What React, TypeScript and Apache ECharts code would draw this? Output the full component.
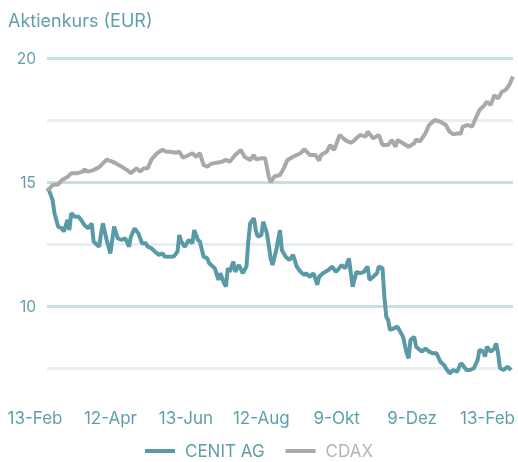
import React, { useEffect, useRef } from "react";
import * as echarts from "echarts";

// x = trading day since start (0..250)
const cdax: [number, number][] = [
  [0, 14.72], [1, 14.7], [3, 14.88], [6, 14.9], [8, 15.08], [11, 15.2], [13, 15.35], [16, 15.35], [19, 15.42],
  [20, 15.5], [22, 15.42], [25, 15.48], [28, 15.6], [30, 15.75], [32, 15.9], [35, 15.82], [37, 15.75],
  [40, 15.62], [43, 15.48], [45, 15.35], [48, 15.55], [50, 15.42], [52, 15.55], [54, 15.55], [56, 15.9],
  [59, 16.16], [62, 16.3], [64, 16.22], [66, 16.22], [69, 16.18], [71, 16.22], [73, 15.98], [76, 16.09],
  [78, 16.16], [80, 16.02], [82, 16.16], [84, 15.69], [86, 15.62], [88, 15.73], [91, 15.78], [94, 15.82],
  [96, 15.89], [98, 15.82], [101, 16.09], [104, 16.29], [106, 16.02], [109, 15.89], [111, 16.09], [112, 15.92],
  [115, 15.96], [117, 15.96], [119, 15.22], [120, 15.0], [122, 15.22], [125, 15.28], [127, 15.55], [129, 15.89],
  [132, 16.02], [136, 16.16], [138, 16.32], [141, 16.09], [144, 16.09], [146, 15.86], [147, 16.09], [150, 16.22],
  [152, 16.49], [154, 16.29], [155, 16.49], [157, 16.9], [160, 16.69], [163, 16.58], [165, 16.69], [168, 16.9],
  [171, 16.83], [172, 17.03], [175, 16.76], [178, 16.9], [180, 16.49], [183, 16.49], [185, 16.69], [187, 16.42],
  [188, 16.69], [191, 16.56], [194, 16.42], [197, 16.56], [198, 16.72], [200, 16.63], [203, 16.96], [205, 17.3],
  [208, 17.5], [211, 17.43], [214, 17.3], [216, 17.03], [218, 16.92], [220, 16.96], [222, 16.96], [223, 17.23],
  [226, 17.3], [228, 17.23], [230, 17.57], [232, 17.9], [234, 18.04], [236, 18.24], [238, 18.1], [240, 18.5],
  [242, 18.37], [244, 18.64], [246, 18.71], [248, 18.91], [250, 19.25],
];

const cenit: [number, number][] = [
  [0, 14.75], [1, 14.68], [3, 14.27], [4, 13.74], [6, 13.2], [8, 13.13], [9, 13.0], [11, 13.47], [12, 13.06],
  [13, 13.74], [15, 13.6], [17, 13.6], [19, 13.4], [20, 13.27], [22, 13.13], [24, 13.33], [25, 12.6], [28, 12.39],
  [29, 12.93], [30, 13.33], [32, 12.66], [34, 12.12], [35, 12.66], [36, 13.2], [38, 12.73], [40, 12.66],
  [42, 12.73], [44, 12.39], [45, 12.8], [47, 13.13], [49, 12.93], [51, 12.53], [53, 12.53], [54, 12.39],
  [56, 12.33], [58, 12.19], [60, 12.06], [62, 12.12], [63, 12.0], [65, 11.99], [68, 12.0], [70, 12.19],
  [71, 12.86], [72, 12.6], [74, 12.39], [76, 12.66], [78, 12.53], [79, 13.06], [81, 12.66], [82, 12.6],
  [84, 11.99], [86, 11.92], [87, 11.72], [90, 11.52], [92, 11.05], [93, 11.32], [95, 10.92], [96, 10.78],
  [97, 11.52], [98, 11.38], [100, 11.79], [101, 11.38], [103, 11.65], [105, 11.32], [107, 11.59], [108, 12.6],
  [109, 13.33], [111, 13.54], [112, 13.06], [113, 12.8], [115, 12.86], [116, 13.4], [118, 12.93], [120, 11.92],
  [121, 11.65], [123, 12.26], [125, 13.06], [126, 12.26], [128, 11.99], [130, 11.85], [132, 12.06], [134, 11.59],
  [136, 11.38], [138, 11.25], [139, 11.32], [141, 11.18], [143, 11.32], [145, 10.85], [146, 11.18], [148, 11.32],
  [151, 11.45], [153, 11.59], [155, 11.38], [156, 11.45], [158, 11.65], [160, 11.52], [162, 11.92], [163, 11.32],
  [164, 10.78], [166, 11.38], [168, 11.32], [170, 11.38], [172, 11.59], [173, 11.05], [175, 11.18], [177, 11.32],
  [178, 11.59], [180, 11.52], [181, 10.38], [182, 9.57], [183, 9.44], [184, 9.03], [186, 9.1], [188, 9.17],
  [189, 9.03], [191, 8.76], [193, 8.09], [194, 7.89], [195, 8.63], [197, 8.76], [198, 8.36], [200, 8.23],
  [201, 8.16], [203, 8.29], [205, 8.16], [207, 8.09], [209, 8.09], [211, 7.75], [213, 7.62], [214, 7.49],
  [216, 7.28], [218, 7.42], [220, 7.35], [222, 7.69], [223, 7.62], [225, 7.42], [227, 7.42], [229, 7.49],
  [231, 7.82], [232, 8.23], [234, 8.16], [235, 7.96], [236, 8.36], [238, 8.16], [240, 8.29], [241, 8.49],
  [242, 8.09], [243, 7.49], [245, 7.42], [247, 7.55], [249, 7.42],
];

const dateLabels = ["13-Feb", "12-Apr", "13-Jun", "12-Aug", "9-Okt", "9-Dez", "13-Feb"];
const yTickLabels = [10, 15, 20];

const TEAL = "#5a9aa6";
const TEXT = "#5f9fab";
const GREY = "#a9a9a9";
const FONT = "Inter, 'Open Sans', sans-serif";

export default function App() {
  const ref = useRef<HTMLDivElement>(null);
  useEffect(() => {
    if (!ref.current) return;
    const chart = echarts.init(ref.current, undefined, { renderer: "svg" });
    chart.setOption({
      animation: false,
      title: {
        text: "Aktienkurs (EUR)",
        left: 3,
        top: 6,
        textStyle: { color: TEXT, fontSize: 18, fontWeight: "normal", fontFamily: FONT },
      },
      legend: {
        top: 441,
        left: "center",
        padding: 0,
        itemWidth: 30,
        itemHeight: 4,
        itemGap: 21,
        icon: "rect",
        textStyle: { fontSize: 17, fontFamily: FONT, padding: [0, 0, 0, 5], lineHeight: 20 },
        data: [
          { name: "CENIT AG", textStyle: { color: TEXT } },
          { name: "CDAX", textStyle: { color: "#b4b4b4" } },
        ],
      },
      grid: [
        { left: 47, right: 5, top: 58, bottom: 94 },
        { left: 35, right: 27, top: 58, bottom: 94 },
      ],
      xAxis: [
        { type: "value", gridIndex: 0, min: 0, max: 250, show: false },
        {
          type: "category",
          gridIndex: 1,
          data: dateLabels,
          boundaryGap: false,
          axisLine: { show: false },
          axisTick: { show: false },
          axisLabel: { color: TEXT, fontSize: 17, fontFamily: FONT, margin: 41, interval: 0 },
        },
      ],
      yAxis: [
        {
          type: "value",
          gridIndex: 0,
          min: 7.5,
          max: 20,
          interval: 2.5,
          axisLine: { show: false },
          axisTick: { show: false },
          axisLabel: {
            color: TEXT,
            fontSize: 15.5,
            fontFamily: FONT,
            margin: 11,
            formatter: (v: number) => (yTickLabels.includes(v) ? String(v) : ""),
          },
          splitLine: { lineStyle: { color: ["#e6f0f2", "#c7dee2"], width: 3 } },
        },
        { type: "value", gridIndex: 1, show: false },
      ],
      series: [
        {
          name: "CENIT AG",
          type: "line",
          xAxisIndex: 0,
          yAxisIndex: 0,
          data: cenit,
          showSymbol: false,
          clip: false,
          lineStyle: { color: TEAL, width: 4 },
          itemStyle: { color: TEAL },
        },
        {
          name: "CDAX",
          type: "line",
          xAxisIndex: 0,
          yAxisIndex: 0,
          data: cdax,
          showSymbol: false,
          clip: false,
          lineStyle: { color: GREY, width: 4 },
          itemStyle: { color: GREY },
        },
      ],
    });
    return () => chart.dispose();
  }, []);
  return <div ref={ref} style={{ position: "fixed", left: 0, top: 0, width: 518, height: 462 }} />;
}
